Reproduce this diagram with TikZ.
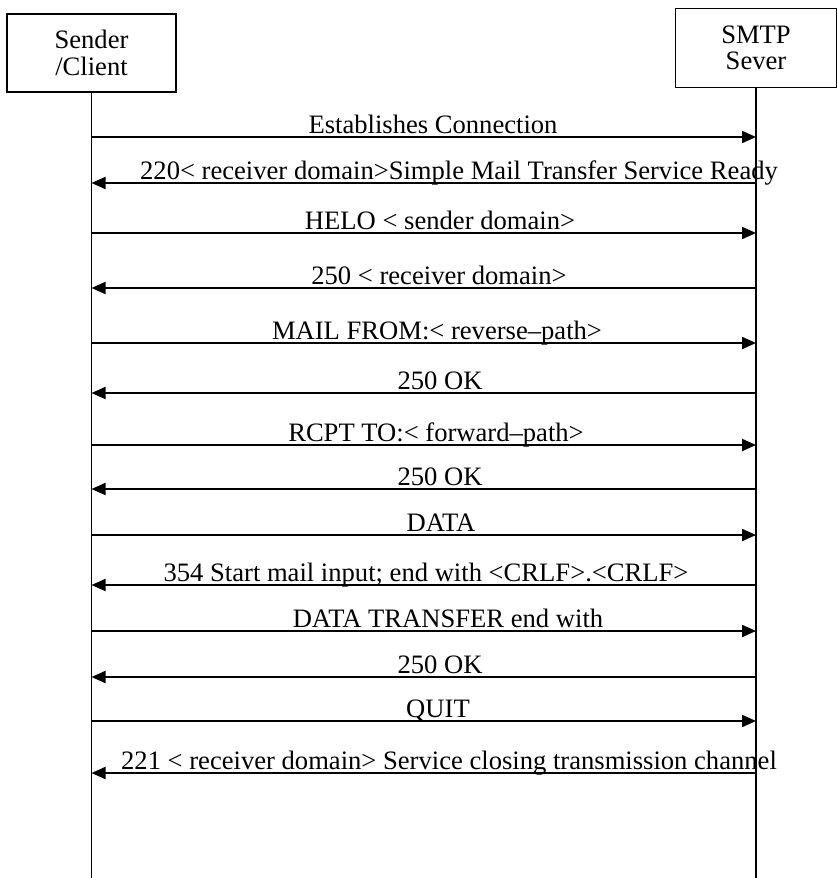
\documentclass[tikz,border=0pt]{standalone}
\usepackage{fontspec}
\setmainfont{Liberation Serif}
\usetikzlibrary{arrows.meta}
\tikzset{
  party/.style={draw,line width=1.5pt,align=center,inner sep=0pt},
  life/.style={line width=1.4pt},
  msg/.style={line width=2pt,-{Triangle[length=14pt,width=12pt]}},
  msgtxt/.style={anchor=base,inner sep=0pt}
}
\begin{document}
\begin{tikzpicture}[x=1pt,y=-1pt,font=\fontsize{26.6}{26.4}\selectfont]
  \useasboundingbox (0,0) rectangle (837,878);
  \node[party,minimum width=169pt,minimum height=78pt] (snd) at (91.5,53) {Sender\\/Client};
  \node[party,minimum width=161pt,minimum height=79pt] (srv) at (756,47.8) {SMTP\\Sever};
  \coordinate (sndend) at (91.5,878);
  \coordinate (srvend) at (756,878);
  \draw[life] (snd.south) -- (sndend);
  \draw[life] (srv.south) -- (srvend);

  % client -> server
  \foreach \i/\y/\tx/\txt in {1/137/433/Establishes Connection,
                              3/233/440/HELO < sender domain>,
                              5/343/437/MAIL FROM:< reverse--path>,
                              7/445/436/RCPT TO:< forward--path>,
                              9/535/441/DATA,
                              11/631/448/DATA TRANSFER end with,
                              13/721/438/QUIT}{
    \coordinate (c\i) at (91.5,\y);
    \coordinate (s\i) at (756,\y);
    \draw[msg] (c\i) -- (s\i);
    \node[msgtxt] (t\i) at (\tx,\y-3.5) {\txt};
  }
  % server -> client
  \foreach \i/\y/\tx/\txt in {2/183/459/220< receiver domain>Simple Mail Transfer Service Ready,
                              4/288/439/250 < receiver domain>,
                              6/393/440/250 OK,
                              8/489/440/250 OK,
                              10/585/426/354 Start mail input; end with <CRLF>.<CRLF>,
                              12/677/440/250 OK,
                              14/773/449/221 < receiver domain> Service closing transmission channel}{
    \coordinate (c\i) at (91.5,\y);
    \coordinate (s\i) at (756,\y);
    \draw[msg] (s\i) -- (c\i);
    \node[msgtxt] (t\i) at (\tx,\y-3.5) {\txt};
  }
\end{tikzpicture}
\end{document}
